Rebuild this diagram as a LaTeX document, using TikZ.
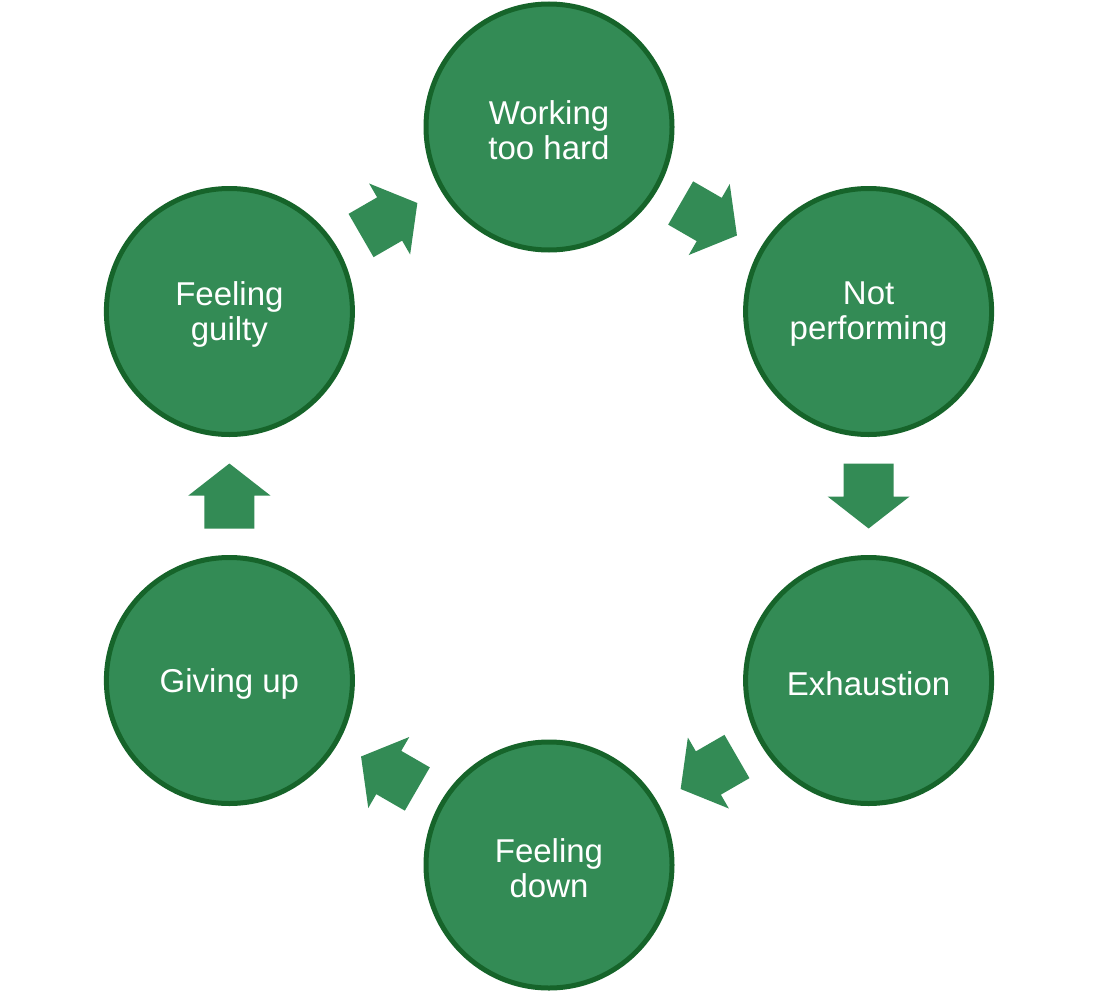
\documentclass[tikz,border=0pt]{standalone}
\usepackage{fontspec}
\setmainfont{Liberation Sans}
\usetikzlibrary{calc}
\begin{document}
\begin{tikzpicture}[x=1pt,y=-1pt,
  stage/.style={circle, minimum size=246pt, inner sep=0pt, fill=cfill, draw=cborder, line width=5pt},
  stagetext/.style={text=white, align=center, inner sep=0pt, font=\fontsize{33}{35}\selectfont, yshift=-3pt},
  blockarrow/.style={fill=cfill}]
\definecolor{cfill}{RGB}{51,139,85}
\definecolor{cborder}{RGB}{22,100,42}
\useasboundingbox (0,0) rectangle (1100,998);
\node[stage, label={[stagetext]center:Working\\too hard}] (wt) at (549,127) {};
\node[stage, label={[stagetext]center:Not\\performing}] (np) at (868.6,311.5) {};
\node[stage, label={[stagetext]center:Exhaustion}] (ex) at (868.6,680.5) {};
\node[stage, label={[stagetext]center:Feeling\\down}] (fd) at (549,865) {};
\node[stage, label={[stagetext]center:Giving up}] (gu) at (229.4,680.5) {};
\node[stage, label={[stagetext]center:Feeling\\guilty}] (fg) at (229.4,311.5) {};
\foreach \a/\b/\ang/\nm in {wt/np/-30/a1, np/ex/-90/a2, ex/fd/-150/a3, fd/gu/150/a4, gu/fg/90/a5, fg/wt/30/a6}{
  \coordinate (\nm) at ($(\a)!0.5!(\b)$);
  \fill[blockarrow, shift={(\nm)}, rotate=\ang]
    (-32.5,-25) -- (0.5,-25) -- (0.5,-41) -- (32.5,0) -- (0.5,41) -- (0.5,25) -- (-32.5,25) -- cycle;
}
\end{tikzpicture}
\end{document}
